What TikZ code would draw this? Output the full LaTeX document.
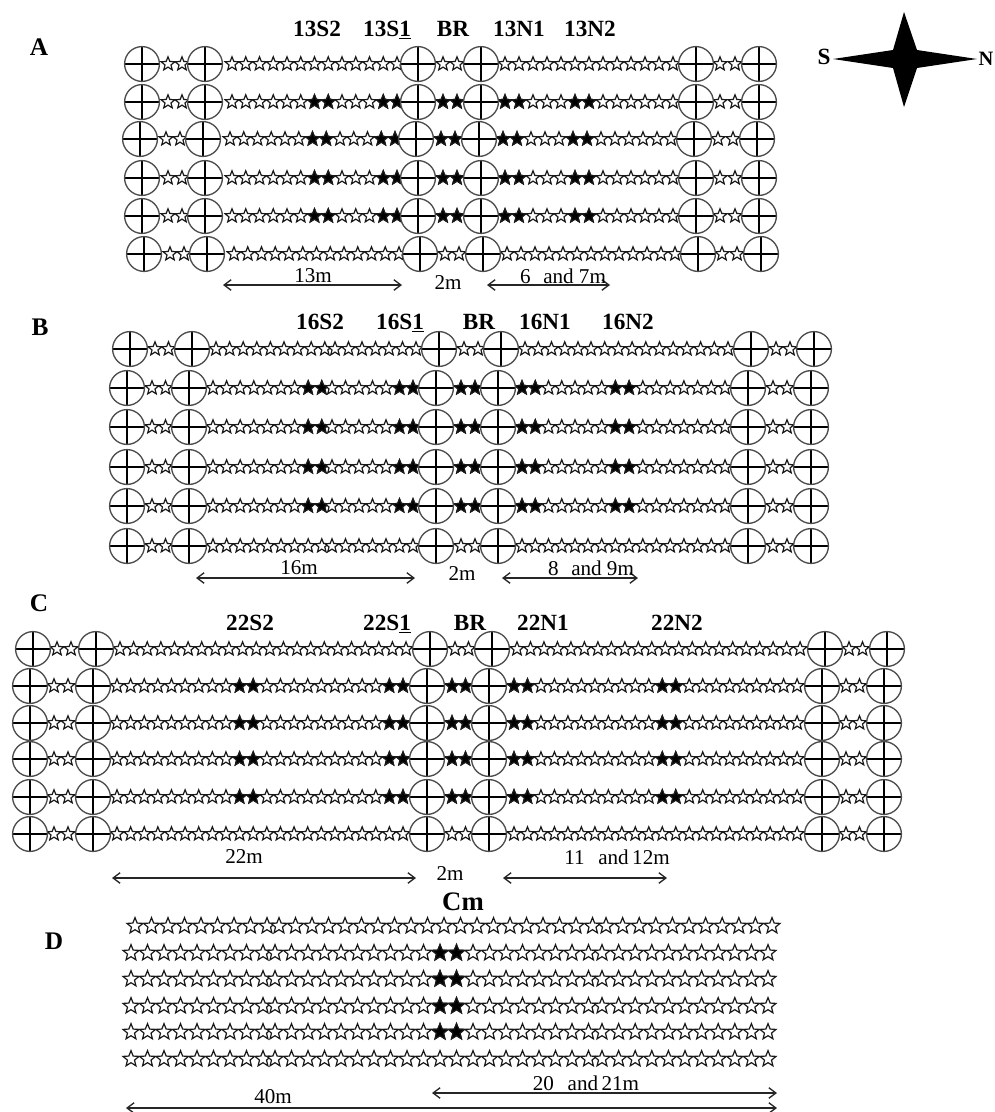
\documentclass[tikz,border=0pt]{standalone}
\usepackage{fontspec}
\setmainfont{Liberation Serif}
\usepackage{tikz}
\usetikzlibrary{shapes.geometric, arrows.meta, positioning}

\tikzset{
    plotstar/.style={star, star points=5, star point ratio=2.3, draw=black!90, fill=white,
                     line width=0.85pt, inner sep=0pt, minimum size=0.36cm},
    fullstar/.style={plotstar, fill=black},
    bigstar/.style={plotstar, minimum size=0.42cm},
    bigfull/.style={bigstar, fill=black},
    wellnode/.style={circle, draw=black!70, fill=white, line width=0.95pt, inner sep=0pt, minimum size=0.87cm,
                     path picture={
                         \draw[black, line width=0.85pt] (path picture bounding box.north) -- (path picture bounding box.south);
                         \draw[black, line width=0.85pt] (path picture bounding box.west) -- (path picture bounding box.east);
                     }},
    plotlabel/.style={font=\fontsize{16.5}{18}\selectfont\bfseries, inner sep=0pt, text height=10.5pt, text depth=0pt},
    panellabel/.style={font=\fontsize{18}{20}\selectfont\bfseries, inner sep=0pt},
    lenlabel/.style={font=\fontsize{15}{18}\selectfont, inner sep=0pt},
    lenarrow/.style={{Straight Barb[length=5pt,width=7.5pt]}-{Straight Barb[length=5pt,width=7.5pt]}, line width=0.95pt, black!85}
}

% name, first x, spacing, count, y, full stars, row
\newcommand{\starrun}[7]{%
    \foreach \i in {1,...,#4} {
        \node[plotstar] (#1-\i) at ({#2+(\i-1)*#3},#5) {};
    }
    \ifnum#7>1 \ifnum#7<6
        \foreach \i in {#6} {
            \node[fullstar] (#1-f\i) at ({#2+(\i-1)*#3},#5) {};
        }
    \fi\fi
}
% same for the wider stars of panel D
\newcommand{\bigrun}[7]{%
    \foreach \i in {1,...,#4} {
        \node[bigstar] (#1-\i) at ({#2+(\i-1)*#3},#5) {};
    }
    \ifnum#7>1 \ifnum#7<6
        \foreach \i in {#6} {
            \node[bigfull] (#1-f\i) at ({#2+(\i-1)*#3},#5) {};
        }
    \fi\fi
}

\begin{document}
\begin{tikzpicture}[x=0.025cm, y=-0.025cm]
    \useasboundingbox (0,0) rectangle (994,1112);

    % Panel A
    \foreach \r/\y/\s in {1/64/0, 2/102/0, 3/139/-2, 4/178/0, 5/216/0, 6/254/2} {
        \starrun{aol\r}{168+\s}{14}{2}{\y}{1}{1}
        \starrun{aor\r}{720+\s}{15}{2}{\y}{1}{1}
        \starrun{as\r}{232+\s}{13.75}{13}{\y}{7,8,12,13}{\r}
        \starrun{ab\r}{443+\s}{14}{2}{\y}{1,2}{\r}
        \starrun{an\r}{505+\s}{14}{13}{\y}{1,2,6,7}{\r}
        \foreach \w/\x in {1/142, 2/205, 3/418, 4/481, 5/696, 6/759} {
            \node[wellnode] (a\r-\w) at (\x+\s,\y) {};
        }
    }
    \node[panellabel] (lblA) at (39,47) {A};
    \node[plotlabel] (a13s2) at (317,29) {13S2};
    \node[plotlabel] (a13s1) at (387,29) {13S\underline{1}};
    \node[plotlabel] (abr) at (453,29) {BR};
    \node[plotlabel] (a13n1) at (519,29) {13N1};
    \node[plotlabel] (a13n2) at (590,29) {13N2};
    \coordinate (alenA) at (223,285);
    \coordinate (alenB) at (402,285);
    \coordinate (alenC) at (487,285);
    \coordinate (alenD) at (610,285);
    \draw[lenarrow] (alenA) -- (alenB);
    \draw[lenarrow] (alenC) -- (alenD);
    \node[lenlabel] (alen13) at (313,276) {13m};
    \node[lenlabel] (alen2) at (448,283) {2m};
    \node[lenlabel] (alen6) at (563,276) {6\hspace{0.6em}and 7m};

    % Panel B
    \foreach \r/\y/\s in {1/349/3, 2/388/0, 3/427/0, 4/467/0, 5/506/0, 6/546/0} {
        \starrun{bol\r}{152+\s}{13.5}{2}{\y}{1}{1}
        \starrun{bor\r}{773+\s}{14}{2}{\y}{1}{1}
        \starrun{bsa\r}{213+\s}{13.6}{9}{\y}{8,9}{\r}
        \starrun{bsb\r}{332+\s}{13.5}{7}{\y}{6,7}{\r}
        \starrun{bb\r}{461+\s}{14}{2}{\y}{1,2}{\r}
        \starrun{bna\r}{522+\s}{13.25}{5}{\y}{1,2}{\r}
        \starrun{bnb\r}{588+\s}{13.7}{11}{\y}{3,4}{\r}
        \foreach \w/\x in {1/127, 2/189, 3/436, 4/498, 5/748, 6/811} {
            \node[wellnode] (b\r-\w) at (\x+\s,\y) {};
        }
    }
    \node[panellabel] (lblB) at (40,327) {B};
    \node[plotlabel] (b16s2) at (320,322) {16S2};
    \node[plotlabel] (b16s1) at (400,322) {16S\underline{1}};
    \node[plotlabel] (bbr) at (479,322) {BR};
    \node[plotlabel] (b16n1) at (545,322) {16N1};
    \node[plotlabel] (b16n2) at (628,322) {16N2};
    \coordinate (blenA) at (196,578);
    \coordinate (blenB) at (415,578);
    \coordinate (blenC) at (502,578);
    \coordinate (blenD) at (638,578);
    \draw[lenarrow] (blenA) -- (blenB);
    \draw[lenarrow] (blenC) -- (blenD);
    \node[lenlabel] (blen16) at (299,568) {16m};
    \node[lenlabel] (blen2) at (462,574) {2m};
    \node[lenlabel] (blen8) at (591,568) {8\hspace{0.6em}and 9m};

    % Panel C
    \foreach \r/\y/\s in {1/649/3, 2/686/0, 3/723/0, 4/759/0, 5/797/0, 6/834/0} {
        \starrun{col\r}{54+\s}{14}{2}{\y}{1}{1}
        \starrun{cor\r}{846+\s}{13.5}{2}{\y}{1}{1}
        \starrun{cs\r}{117+\s}{13.62}{22}{\y}{10,11,21,22}{\r}
        \starrun{cb\r}{452+\s}{13.5}{2}{\y}{1,2}{\r}
        \starrun{cn\r}{514+\s}{13.48}{22}{\y}{1,2,12,13}{\r}
        \foreach \w/\x in {1/30, 2/93, 3/427, 4/489, 5/822, 6/884} {
            \node[wellnode] (c\r-\w) at (\x+\s,\y) {};
        }
    }
    \node[panellabel] (lblC) at (39,603) {C};
    \node[plotlabel] (c22s2) at (250,623) {22S2};
    \node[plotlabel] (c22s1) at (387,623) {22S\underline{1}};
    \node[plotlabel] (cbr) at (470,623) {BR};
    \node[plotlabel] (c22n1) at (543,623) {22N1};
    \node[plotlabel] (c22n2) at (677,623) {22N2};
    \coordinate (clenA) at (112,878);
    \coordinate (clenB) at (416,878);
    \coordinate (clenC) at (503,878);
    \coordinate (clenD) at (667,878);
    \draw[lenarrow] (clenA) -- (clenB);
    \draw[lenarrow] (clenC) -- (clenD);
    \node[lenlabel] (clen22) at (244,857) {22m};
    \node[lenlabel] (clen2) at (450,874) {2m};
    \node[lenlabel] (clen11) at (617,857) {11\hspace{0.65em}and\,12m};

    % Panel D
    \foreach \r/\y/\s in {1/926/4, 2/953/0, 3/979/0, 4/1006/0, 5/1032/0, 6/1059/0} {
        \bigrun{da\r}{131+\s}{16.5}{9}{\y}{1}{1}
        \bigrun{db\r}{275+\s}{16.5}{20}{\y}{11,12}{\r}
        \bigrun{dc\r}{602+\s}{16.6}{11}{\y}{1}{1}
    }
    \node[panellabel] (lblD) at (54,941) {D};
    \node[panellabel, font=\fontsize{19}{20}\selectfont\bfseries] (dcm) at (463,902) {Cm};
    \coordinate (dlenA) at (432,1093);
    \coordinate (dlenB) at (777,1093);
    \coordinate (dlenC) at (126,1108);
    \coordinate (dlenD) at (777,1108);
    \draw[lenarrow] (dlenA) -- (dlenB);
    \draw[lenarrow] (dlenC) -- (dlenD);
    \node[lenlabel] (dlen20) at (586,1083) {20\hspace{0.65em}and\,21m};
    \node[lenlabel] (dlen40) at (273,1097) {40m};

    % Compass
    \fill[black] (904,12) -- (917,50) -- (977,59) -- (917,68) -- (904,107) -- (893,68) -- (833,59) -- (893,50) -- cycle;
    \node[plotlabel] (compS) at (824,57) {S};
    \node[plotlabel, font=\fontsize{14.5}{18}\selectfont\bfseries] (compN) at (986,58) {N};
\end{tikzpicture}
\end{document}
